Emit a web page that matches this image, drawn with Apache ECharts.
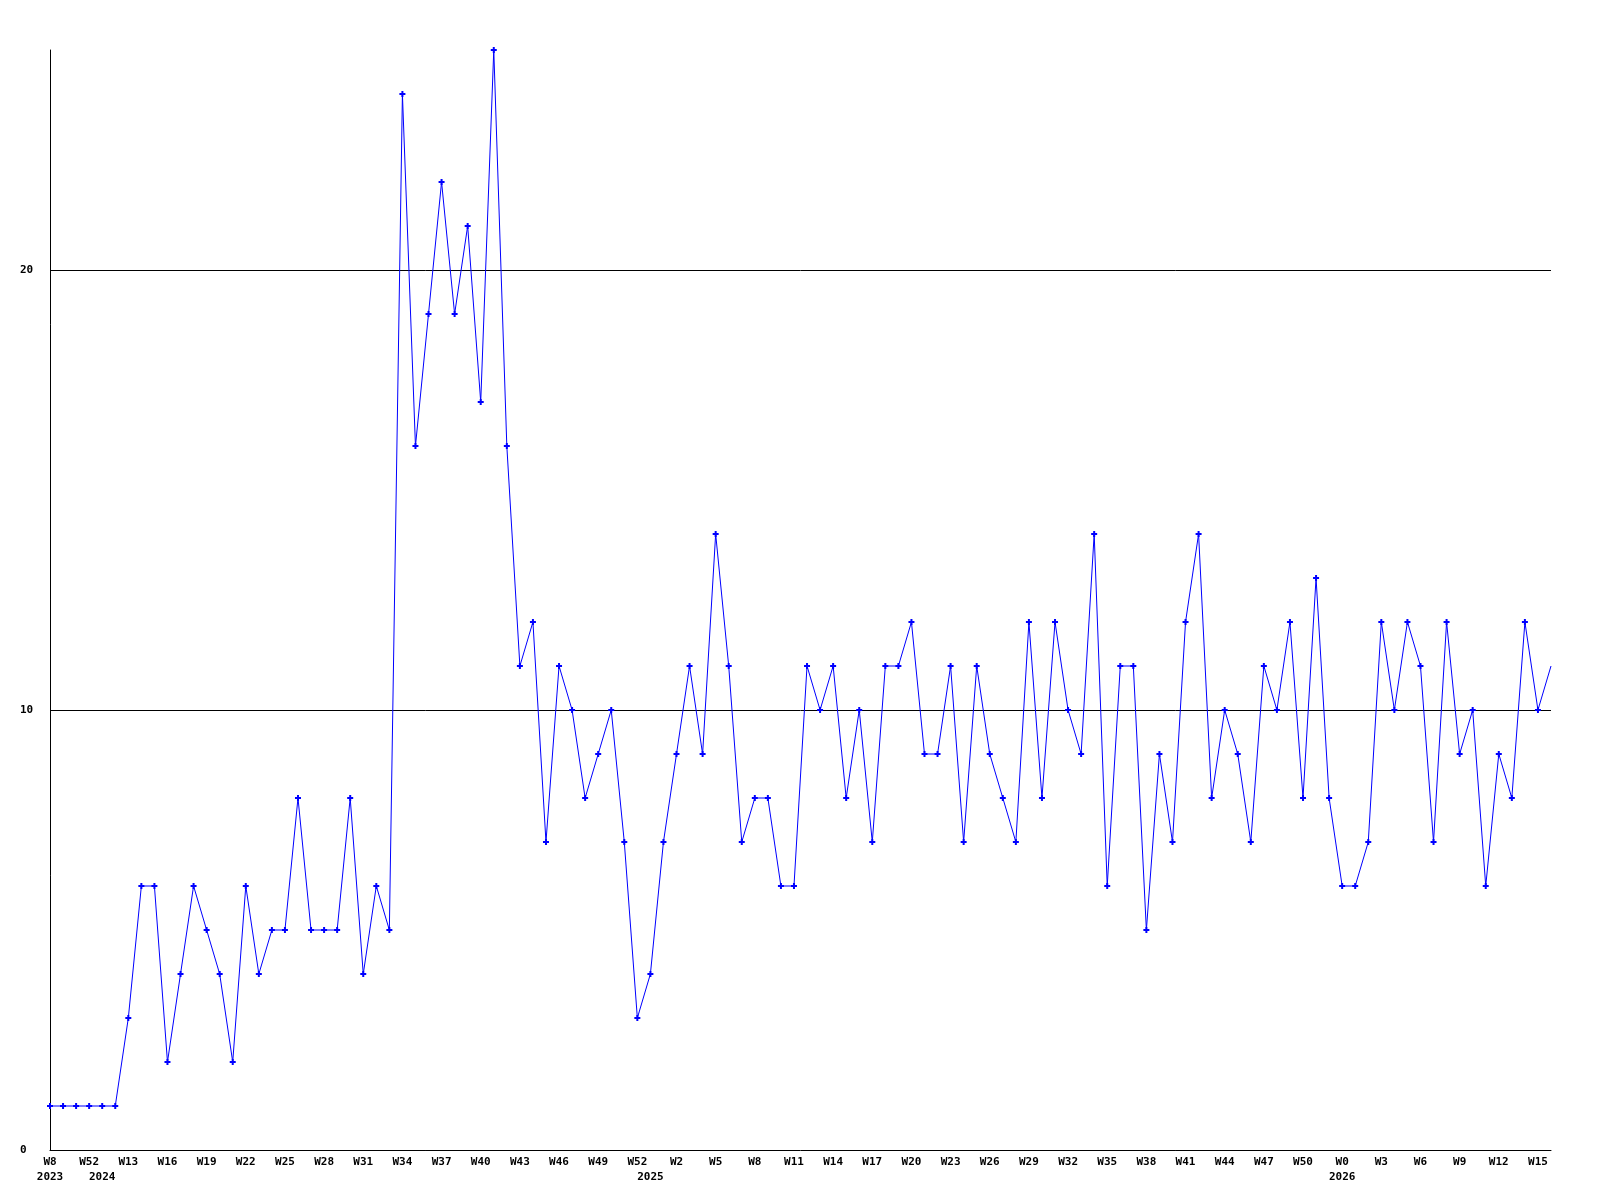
<!DOCTYPE html>
<html>
<head>
<meta charset="utf-8">
<script src="https://cdn.jsdelivr.net/npm/echarts@6/dist/echarts.min.js"></script>
<style>
html,body{margin:0;padding:0;background:#fff;}
#chart{width:1600px;height:1200px;}
</style>
</head>
<body>
<div id="chart"></div>
<script>
// Week categories ("year week")
const categories = [
  "2023 W8","2023 W50","2023 W51","2023 W52",
  "2024 W11","2024 W12","2024 W13","2024 W14","2024 W15","2024 W16","2024 W17","2024 W18","2024 W19","2024 W20",
  "2024 W21","2024 W22","2024 W23","2024 W24","2024 W25","2024 W26","2024 W27","2024 W28","2024 W29","2024 W30",
  "2024 W31","2024 W32","2024 W33","2024 W34","2024 W35","2024 W36","2024 W37","2024 W38","2024 W39","2024 W40",
  "2024 W41","2024 W42","2024 W43","2024 W44","2024 W45","2024 W46","2024 W47","2024 W48","2024 W49","2024 W50",
  "2024 W51","2024 W52",
  "2025 W0","2025 W1","2025 W2","2025 W3","2025 W4","2025 W5","2025 W6","2025 W7","2025 W8","2025 W9",
  "2025 W10","2025 W11","2025 W12","2025 W13","2025 W14","2025 W15","2025 W16","2025 W17","2025 W18","2025 W19",
  "2025 W20","2025 W21","2025 W22","2025 W23","2025 W24","2025 W25","2025 W26","2025 W27","2025 W28","2025 W29",
  "2025 W30","2025 W31","2025 W32","2025 W33","2025 W34","2025 W35","2025 W36","2025 W37","2025 W38","2025 W39",
  "2025 W40","2025 W41","2025 W42","2025 W43","2025 W44","2025 W45","2025 W46","2025 W47","2025 W48","2025 W49",
  "2025 W50","2025 W51","2025 W52",
  "2026 W0","2026 W1","2026 W2","2026 W3","2026 W4","2026 W5","2026 W6","2026 W7","2026 W8","2026 W9",
  "2026 W10","2026 W11","2026 W12","2026 W13","2026 W14","2026 W15","2026 W16"
];

const values = [
  1,1,1,1,1,1,
  3,6,6,2,4,6,
  5,4,2,6,4,5,
  5,8,5,5,5,8,
  4,6,5,24,16,19,
  22,19,21,17,25,16,
  11,12,7,11,10,8,
  9,10,7,3,4,7,
  9,11,9,14,11,7,
  8,8,6,6,11,10,
  11,8,10,7,11,11,
  12,9,9,11,7,11,
  9,8,7,12,8,12,
  10,9,14,6,11,11,
  5,9,7,12,14,8,
  10,9,7,11,10,12,
  8,13,8,6,6,7,
  12,10,12,11,7,12,
  9,10,6,9,8,12,
  10,11
];

const yTicks = [0, 10, 20];
const yMax = 25;

function yearOf(i){ return categories[i].split(' ')[0]; }
function weekOf(i){ return categories[i].split(' ')[1]; }
function isYearStart(i){ return i === 0 || yearOf(i) !== yearOf(i-1); }

const FONT = 'DejaVu Sans Mono';

const seriesData = values.map((v, i) =>
  i === values.length - 1 ? {value: v, symbol: 'none'} : v
);

const chart = echarts.init(document.getElementById('chart'), null, {renderer: 'canvas'});
chart.setOption({
  animation: false,
  backgroundColor: '#ffffff',
  grid: {left: 50, right: 49, top: 50, bottom: 50, containLabel: false},
  xAxis: {
    type: 'category',
    data: categories,
    boundaryGap: false,
    axisLine: {show: true, lineStyle: {color: '#000', width: 1}},
    axisTick: {show: false},
    splitLine: {show: false},
    axisLabel: {
      interval: function(i){ return i % 3 === 0 || isYearStart(i); },
      margin: 5,
      fontFamily: FONT,
      fontWeight: 'bold',
      fontSize: 11,
      color: '#000',
      lineHeight: 15,
      formatter: function(val, i){
        const wk = (i % 3 === 0) ? weekOf(i) : ' ';
        const yr = isYearStart(i) ? yearOf(i) : ' ';
        return wk + '\n' + yr;
      }
    }
  },
  yAxis: {
    type: 'value',
    min: 0,
    max: yMax,
    interval: 10,
    axisLine: {show: true, lineStyle: {color: '#000', width: 1}},
    axisTick: {show: false},
    splitLine: {show: true, showMinLine: false, showMaxLine: false, lineStyle: {color: '#000', width: 1}},
    axisLabel: {
      showMaxLabel: false,
      align: 'left',
      margin: 30,
      fontFamily: FONT,
      fontWeight: 'bold',
      fontSize: 11,
      color: '#000',
      formatter: function(v){ return yTicks.indexOf(v) >= 0 ? String(v) : ''; }
    }
  },
  series: [{
    type: 'line',
    data: seriesData,
    symbol: 'path://M2,0H4V2H6V4H4V6H2V4H0V2H2Z',
    symbolSize: 6,
    showAllSymbol: true,
    clip: false,
    lineStyle: {color: '#0000ff', width: 1},
    itemStyle: {color: '#0000ff'},
    z: 3
  }]
});
</script>
</body>
</html>
